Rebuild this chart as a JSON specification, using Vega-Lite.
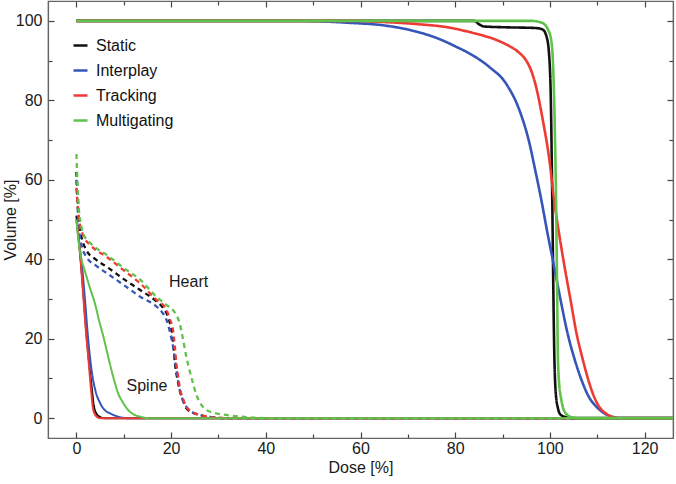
{
  "$schema": "https://vega.github.io/schema/vega-lite/v6.json",
  "width": 625,
  "height": 437,
  "autosize": {"type": "none"},
  "padding": {"left": 48, "top": 1, "right": 3, "bottom": 46},
  "background": "white",
  "config": {
    "font": "Liberation Sans",
    "view": {"stroke": "#666", "strokeWidth": 1.2},
    "axis": {"grid": false, "domainColor": "#666", "domainWidth": 1.2, "tickColor": "#444", "tickWidth": 1.2, "labelFontSize": 16, "titleFontSize": 16, "titleFontWeight": "normal", "labelColor": "#1a1a1a", "titleColor": "#1a1a1a", "labelFont": "Liberation Sans", "titleFont": "Liberation Sans"}
  },
  "datasets": {
    "curves": [
      {"plan":"Static","organ":"PTV","dose":0,"volume":100},{"plan":"Static","organ":"PTV","dose":60,"volume":100},{"plan":"Static","organ":"PTV","dose":84,"volume":100},{"plan":"Static","organ":"PTV","dose":85,"volume":99.2},{"plan":"Static","organ":"PTV","dose":86,"volume":98.6},{"plan":"Static","organ":"PTV","dose":90,"volume":98.4},{"plan":"Static","organ":"PTV","dose":97,"volume":98.2},{"plan":"Static","organ":"PTV","dose":98.5,"volume":97.8},{"plan":"Static","organ":"PTV","dose":99.3,"volume":96},{"plan":"Static","organ":"PTV","dose":99.8,"volume":92},{"plan":"Static","organ":"PTV","dose":100.2,"volume":80},{"plan":"Static","organ":"PTV","dose":100.5,"volume":55},{"plan":"Static","organ":"PTV","dose":100.7,"volume":35},{"plan":"Static","organ":"PTV","dose":100.9,"volume":18},{"plan":"Static","organ":"PTV","dose":101.2,"volume":7},{"plan":"Static","organ":"PTV","dose":101.7,"volume":2.5},{"plan":"Static","organ":"PTV","dose":102.3,"volume":0.8},{"plan":"Static","organ":"PTV","dose":103.5,"volume":0.2},{"plan":"Static","organ":"PTV","dose":105,"volume":0},{"plan":"Static","organ":"PTV","dose":126,"volume":0},
      {"plan":"Static","organ":"Heart","dose":0,"volume":62},{"plan":"Static","organ":"Heart","dose":0.3,"volume":55},{"plan":"Static","organ":"Heart","dose":0.7,"volume":48},{"plan":"Static","organ":"Heart","dose":1.2,"volume":45},{"plan":"Static","organ":"Heart","dose":2.1,"volume":42.3},{"plan":"Static","organ":"Heart","dose":4,"volume":40},{"plan":"Static","organ":"Heart","dose":6.4,"volume":38.1},{"plan":"Static","organ":"Heart","dose":10,"volume":35},{"plan":"Static","organ":"Heart","dose":13.4,"volume":32.3},{"plan":"Static","organ":"Heart","dose":16.9,"volume":29.4},{"plan":"Static","organ":"Heart","dose":18.3,"volume":27.8},{"plan":"Static","organ":"Heart","dose":19,"volume":26.5},{"plan":"Static","organ":"Heart","dose":19.6,"volume":24.5},{"plan":"Static","organ":"Heart","dose":20.1,"volume":22.2},{"plan":"Static","organ":"Heart","dose":20.5,"volume":18},{"plan":"Static","organ":"Heart","dose":20.8,"volume":13.9},{"plan":"Static","organ":"Heart","dose":21.3,"volume":10},{"plan":"Static","organ":"Heart","dose":21.8,"volume":7.1},{"plan":"Static","organ":"Heart","dose":22.5,"volume":4.5},{"plan":"Static","organ":"Heart","dose":23.2,"volume":2.5},{"plan":"Static","organ":"Heart","dose":24.5,"volume":1.4},{"plan":"Static","organ":"Heart","dose":26.1,"volume":0.8},{"plan":"Static","organ":"Heart","dose":28,"volume":0.3},{"plan":"Static","organ":"Heart","dose":32,"volume":0},{"plan":"Static","organ":"Heart","dose":126,"volume":0},
      {"plan":"Static","organ":"Spine","dose":0,"volume":51},{"plan":"Static","organ":"Spine","dose":0.5,"volume":45},{"plan":"Static","organ":"Spine","dose":1,"volume":38.5},{"plan":"Static","organ":"Spine","dose":1.5,"volume":31},{"plan":"Static","organ":"Spine","dose":2,"volume":23},{"plan":"Static","organ":"Spine","dose":2.6,"volume":15},{"plan":"Static","organ":"Spine","dose":3.2,"volume":8},{"plan":"Static","organ":"Spine","dose":3.7,"volume":3},{"plan":"Static","organ":"Spine","dose":4.3,"volume":1},{"plan":"Static","organ":"Spine","dose":5,"volume":0.3},{"plan":"Static","organ":"Spine","dose":5.8,"volume":0},{"plan":"Static","organ":"Spine","dose":126,"volume":0},
      {"plan":"Interplay","organ":"PTV","dose":0,"volume":100},{"plan":"Interplay","organ":"PTV","dose":45,"volume":100},{"plan":"Interplay","organ":"PTV","dose":50.7,"volume":99.9},{"plan":"Interplay","organ":"PTV","dose":57.7,"volume":99.5},{"plan":"Interplay","organ":"PTV","dose":64.7,"volume":98.9},{"plan":"Interplay","organ":"PTV","dose":71.8,"volume":97.3},{"plan":"Interplay","organ":"PTV","dose":76.7,"volume":95.4},{"plan":"Interplay","organ":"PTV","dose":80,"volume":93.6},{"plan":"Interplay","organ":"PTV","dose":83.6,"volume":91.4},{"plan":"Interplay","organ":"PTV","dose":87.2,"volume":88.4},{"plan":"Interplay","organ":"PTV","dose":90.8,"volume":84.1},{"plan":"Interplay","organ":"PTV","dose":93.6,"volume":77.4},{"plan":"Interplay","organ":"PTV","dose":95.7,"volume":69.1},{"plan":"Interplay","organ":"PTV","dose":96.8,"volume":63},{"plan":"Interplay","organ":"PTV","dose":98.1,"volume":55.5},{"plan":"Interplay","organ":"PTV","dose":99.5,"volume":46.5},{"plan":"Interplay","organ":"PTV","dose":100.9,"volume":38.1},{"plan":"Interplay","organ":"PTV","dose":102.3,"volume":29.5},{"plan":"Interplay","organ":"PTV","dose":103.7,"volume":21.5},{"plan":"Interplay","organ":"PTV","dose":105.3,"volume":14.5},{"plan":"Interplay","organ":"PTV","dose":106.9,"volume":8.9},{"plan":"Interplay","organ":"PTV","dose":108.3,"volume":5.2},{"plan":"Interplay","organ":"PTV","dose":109.8,"volume":2.9},{"plan":"Interplay","organ":"PTV","dose":111.5,"volume":1.2},{"plan":"Interplay","organ":"PTV","dose":113,"volume":0.4},{"plan":"Interplay","organ":"PTV","dose":115,"volume":0},{"plan":"Interplay","organ":"PTV","dose":126,"volume":0},
      {"plan":"Interplay","organ":"Heart","dose":0,"volume":60},{"plan":"Interplay","organ":"Heart","dose":0.3,"volume":52},{"plan":"Interplay","organ":"Heart","dose":0.7,"volume":46},{"plan":"Interplay","organ":"Heart","dose":1.2,"volume":43},{"plan":"Interplay","organ":"Heart","dose":2.1,"volume":40.6},{"plan":"Interplay","organ":"Heart","dose":4,"volume":38.5},{"plan":"Interplay","organ":"Heart","dose":6.4,"volume":36.5},{"plan":"Interplay","organ":"Heart","dose":10,"volume":33.5},{"plan":"Interplay","organ":"Heart","dose":13.4,"volume":30.6},{"plan":"Interplay","organ":"Heart","dose":16.9,"volume":28.1},{"plan":"Interplay","organ":"Heart","dose":18,"volume":26.8},{"plan":"Interplay","organ":"Heart","dose":19,"volume":24.8},{"plan":"Interplay","organ":"Heart","dose":19.8,"volume":21.5},{"plan":"Interplay","organ":"Heart","dose":20.4,"volume":18.1},{"plan":"Interplay","organ":"Heart","dose":21.1,"volume":12.3},{"plan":"Interplay","organ":"Heart","dose":21.8,"volume":7.2},{"plan":"Interplay","organ":"Heart","dose":22.5,"volume":4.5},{"plan":"Interplay","organ":"Heart","dose":23.2,"volume":2.9},{"plan":"Interplay","organ":"Heart","dose":24.5,"volume":1.5},{"plan":"Interplay","organ":"Heart","dose":26.1,"volume":0.8},{"plan":"Interplay","organ":"Heart","dose":28,"volume":0.3},{"plan":"Interplay","organ":"Heart","dose":32,"volume":0},{"plan":"Interplay","organ":"Heart","dose":126,"volume":0},
      {"plan":"Interplay","organ":"Spine","dose":0,"volume":50},{"plan":"Interplay","organ":"Spine","dose":0.5,"volume":45},{"plan":"Interplay","organ":"Spine","dose":1.2,"volume":38},{"plan":"Interplay","organ":"Spine","dose":1.8,"volume":30},{"plan":"Interplay","organ":"Spine","dose":2.4,"volume":21},{"plan":"Interplay","organ":"Spine","dose":3.2,"volume":12.1},{"plan":"Interplay","organ":"Spine","dose":4,"volume":7},{"plan":"Interplay","organ":"Spine","dose":5,"volume":3.8},{"plan":"Interplay","organ":"Spine","dose":6,"volume":2},{"plan":"Interplay","organ":"Spine","dose":7.1,"volume":1.2},{"plan":"Interplay","organ":"Spine","dose":8.5,"volume":0.5},{"plan":"Interplay","organ":"Spine","dose":10.6,"volume":0},{"plan":"Interplay","organ":"Spine","dose":126,"volume":0},
      {"plan":"Tracking","organ":"PTV","dose":0,"volume":100},{"plan":"Tracking","organ":"PTV","dose":58,"volume":100},{"plan":"Tracking","organ":"PTV","dose":65,"volume":99.7},{"plan":"Tracking","organ":"PTV","dose":71.8,"volume":99.2},{"plan":"Tracking","organ":"PTV","dose":78.8,"volume":98.3},{"plan":"Tracking","organ":"PTV","dose":83.6,"volume":97},{"plan":"Tracking","organ":"PTV","dose":88.9,"volume":95.1},{"plan":"Tracking","organ":"PTV","dose":91.5,"volume":93.6},{"plan":"Tracking","organ":"PTV","dose":93.5,"volume":92},{"plan":"Tracking","organ":"PTV","dose":95,"volume":90},{"plan":"Tracking","organ":"PTV","dose":96.2,"volume":87},{"plan":"Tracking","organ":"PTV","dose":97.1,"volume":83.3},{"plan":"Tracking","organ":"PTV","dose":98.4,"volume":75.7},{"plan":"Tracking","organ":"PTV","dose":99.9,"volume":64.9},{"plan":"Tracking","organ":"PTV","dose":100.9,"volume":54.8},{"plan":"Tracking","organ":"PTV","dose":102,"volume":46},{"plan":"Tracking","organ":"PTV","dose":103.1,"volume":38.1},{"plan":"Tracking","organ":"PTV","dose":104.4,"volume":29.5},{"plan":"Tracking","organ":"PTV","dose":105.6,"volume":21.5},{"plan":"Tracking","organ":"PTV","dose":107,"volume":14.5},{"plan":"Tracking","organ":"PTV","dose":108.3,"volume":8.9},{"plan":"Tracking","organ":"PTV","dose":109.4,"volume":5.2},{"plan":"Tracking","organ":"PTV","dose":110.4,"volume":2.9},{"plan":"Tracking","organ":"PTV","dose":111.8,"volume":1.2},{"plan":"Tracking","organ":"PTV","dose":113.2,"volume":0.3},{"plan":"Tracking","organ":"PTV","dose":115,"volume":0},{"plan":"Tracking","organ":"PTV","dose":126,"volume":0},
      {"plan":"Tracking","organ":"Heart","dose":0,"volume":58},{"plan":"Tracking","organ":"Heart","dose":0.3,"volume":53},{"plan":"Tracking","organ":"Heart","dose":0.7,"volume":49},{"plan":"Tracking","organ":"Heart","dose":1.4,"volume":46.1},{"plan":"Tracking","organ":"Heart","dose":3,"volume":43.5},{"plan":"Tracking","organ":"Heart","dose":6.4,"volume":40.6},{"plan":"Tracking","organ":"Heart","dose":10,"volume":37.2},{"plan":"Tracking","organ":"Heart","dose":13.4,"volume":34},{"plan":"Tracking","organ":"Heart","dose":16.9,"volume":29.8},{"plan":"Tracking","organ":"Heart","dose":18.3,"volume":28.5},{"plan":"Tracking","organ":"Heart","dose":19,"volume":27.3},{"plan":"Tracking","organ":"Heart","dose":19.7,"volume":25},{"plan":"Tracking","organ":"Heart","dose":20.4,"volume":22.2},{"plan":"Tracking","organ":"Heart","dose":20.8,"volume":18},{"plan":"Tracking","organ":"Heart","dose":21.1,"volume":13.9},{"plan":"Tracking","organ":"Heart","dose":21.5,"volume":10.5},{"plan":"Tracking","organ":"Heart","dose":21.8,"volume":7.9},{"plan":"Tracking","organ":"Heart","dose":22.5,"volume":5},{"plan":"Tracking","organ":"Heart","dose":23.2,"volume":2.9},{"plan":"Tracking","organ":"Heart","dose":24.5,"volume":1.5},{"plan":"Tracking","organ":"Heart","dose":26.1,"volume":0.8},{"plan":"Tracking","organ":"Heart","dose":28,"volume":0.3},{"plan":"Tracking","organ":"Heart","dose":32,"volume":0},{"plan":"Tracking","organ":"Heart","dose":126,"volume":0},
      {"plan":"Tracking","organ":"Spine","dose":0,"volume":50},{"plan":"Tracking","organ":"Spine","dose":0.5,"volume":45},{"plan":"Tracking","organ":"Spine","dose":1,"volume":38},{"plan":"Tracking","organ":"Spine","dose":1.5,"volume":30},{"plan":"Tracking","organ":"Spine","dose":2,"volume":22},{"plan":"Tracking","organ":"Spine","dose":2.6,"volume":14},{"plan":"Tracking","organ":"Spine","dose":3.1,"volume":7},{"plan":"Tracking","organ":"Spine","dose":3.5,"volume":2.5},{"plan":"Tracking","organ":"Spine","dose":4,"volume":0.8},{"plan":"Tracking","organ":"Spine","dose":4.5,"volume":0.2},{"plan":"Tracking","organ":"Spine","dose":5,"volume":0},{"plan":"Tracking","organ":"Spine","dose":126,"volume":0},
      {"plan":"Multigating","organ":"PTV","dose":0,"volume":100},{"plan":"Multigating","organ":"PTV","dose":96,"volume":100},{"plan":"Multigating","organ":"PTV","dose":97.5,"volume":99.8},{"plan":"Multigating","organ":"PTV","dose":98.8,"volume":99.2},{"plan":"Multigating","organ":"PTV","dose":99.6,"volume":97.8},{"plan":"Multigating","organ":"PTV","dose":100.3,"volume":95},{"plan":"Multigating","organ":"PTV","dose":100.7,"volume":88},{"plan":"Multigating","organ":"PTV","dose":101,"volume":75},{"plan":"Multigating","organ":"PTV","dose":101.3,"volume":55},{"plan":"Multigating","organ":"PTV","dose":101.5,"volume":35},{"plan":"Multigating","organ":"PTV","dose":101.7,"volume":15},{"plan":"Multigating","organ":"PTV","dose":102,"volume":8},{"plan":"Multigating","organ":"PTV","dose":102.3,"volume":5.4},{"plan":"Multigating","organ":"PTV","dose":102.8,"volume":2.5},{"plan":"Multigating","organ":"PTV","dose":103.5,"volume":1},{"plan":"Multigating","organ":"PTV","dose":104.7,"volume":0.2},{"plan":"Multigating","organ":"PTV","dose":106,"volume":0},{"plan":"Multigating","organ":"PTV","dose":126,"volume":0},
      {"plan":"Multigating","organ":"Heart","dose":0,"volume":66.5},{"plan":"Multigating","organ":"Heart","dose":0.2,"volume":60},{"plan":"Multigating","organ":"Heart","dose":0.5,"volume":53},{"plan":"Multigating","organ":"Heart","dose":1,"volume":48.5},{"plan":"Multigating","organ":"Heart","dose":1.4,"volume":46.5},{"plan":"Multigating","organ":"Heart","dose":3,"volume":44},{"plan":"Multigating","organ":"Heart","dose":6.4,"volume":41.1},{"plan":"Multigating","organ":"Heart","dose":10,"volume":37.8},{"plan":"Multigating","organ":"Heart","dose":13.4,"volume":34.9},{"plan":"Multigating","organ":"Heart","dose":16.9,"volume":30.6},{"plan":"Multigating","organ":"Heart","dose":19,"volume":28.5},{"plan":"Multigating","organ":"Heart","dose":20.4,"volume":27.2},{"plan":"Multigating","organ":"Heart","dose":21.2,"volume":25.8},{"plan":"Multigating","organ":"Heart","dose":21.8,"volume":23.9},{"plan":"Multigating","organ":"Heart","dose":22.5,"volume":20},{"plan":"Multigating","organ":"Heart","dose":23.2,"volume":15.5},{"plan":"Multigating","organ":"Heart","dose":23.9,"volume":12},{"plan":"Multigating","organ":"Heart","dose":24.6,"volume":8.9},{"plan":"Multigating","organ":"Heart","dose":25.3,"volume":6},{"plan":"Multigating","organ":"Heart","dose":26.1,"volume":3.9},{"plan":"Multigating","organ":"Heart","dose":27.3,"volume":2.2},{"plan":"Multigating","organ":"Heart","dose":28.8,"volume":1.4},{"plan":"Multigating","organ":"Heart","dose":31,"volume":0.9},{"plan":"Multigating","organ":"Heart","dose":34.5,"volume":0.4},{"plan":"Multigating","organ":"Heart","dose":40,"volume":0},{"plan":"Multigating","organ":"Heart","dose":126,"volume":0},
      {"plan":"Multigating","organ":"Spine","dose":0,"volume":50},{"plan":"Multigating","organ":"Spine","dose":0.4,"volume":45},{"plan":"Multigating","organ":"Spine","dose":0.9,"volume":41},{"plan":"Multigating","organ":"Spine","dose":1.8,"volume":37},{"plan":"Multigating","organ":"Spine","dose":2.8,"volume":33},{"plan":"Multigating","organ":"Spine","dose":3.9,"volume":28.9},{"plan":"Multigating","organ":"Spine","dose":4.8,"volume":24.5},{"plan":"Multigating","organ":"Spine","dose":5.7,"volume":20.5},{"plan":"Multigating","organ":"Spine","dose":6.6,"volume":16},{"plan":"Multigating","organ":"Spine","dose":7.4,"volume":12.1},{"plan":"Multigating","organ":"Spine","dose":8.1,"volume":9},{"plan":"Multigating","organ":"Spine","dose":8.8,"volume":6.3},{"plan":"Multigating","organ":"Spine","dose":9.8,"volume":4},{"plan":"Multigating","organ":"Spine","dose":10.9,"volume":2.1},{"plan":"Multigating","organ":"Spine","dose":12,"volume":1},{"plan":"Multigating","organ":"Spine","dose":13.4,"volume":0.4},{"plan":"Multigating","organ":"Spine","dose":15,"volume":0},{"plan":"Multigating","organ":"Spine","dose":126,"volume":0}
    ],
    "notes": [
      {"label": "Heart", "dose": 23.7, "volume": 34.2},
      {"label": "Spine", "dose": 14.9, "volume": 8}
    ]
  },
  "layer": [
    {
      "data": {"name": "curves"},
      "mark": {"type": "line", "interpolate": "monotone", "strokeJoin": "round"},
      "encoding": {
        "x": {"field": "dose", "type": "quantitative", "scale": {"domain": [-6, 126], "nice": false, "zero": false},
          "axis": {"orient": "bottom", "title": "Dose [%]", "values": [0,10,20,30,40,50,60,70,80,90,100,110,120],
            "labelExpr": "datum.value % 20 === 0 ? datum.label : ''",
            "tickSize": {"condition": {"test": "datum.value % 20 !== 0", "value": -4}, "value": -6},
            "labelPadding": 8, "titlePadding": 3, "labelFlush": false}},
        "y": {"field": "volume", "type": "quantitative", "scale": {"domain": [-5, 105], "nice": false, "zero": false},
          "axis": {"orient": "left", "title": "Volume [%]", "values": [0,10,20,30,40,50,60,70,80,90,100],
            "labelExpr": "datum.value % 20 === 0 ? datum.label : ''",
            "tickSize": {"condition": {"test": "datum.value % 20 !== 0", "value": -4}, "value": -6},
            "labelPadding": 12, "titlePadding": -3, "labelFlush": false}},
        "color": {"field": "plan", "type": "nominal",
          "scale": {"domain": ["Static", "Interplay", "Tracking", "Multigating"], "range": ["#111111", "#3556b8", "#ee3a33", "#5fc24a"]},
          "legend": {"orient": "none", "legendX": 24, "legendY": 36, "title": null, "symbolType": "stroke", "symbolStrokeWidth": 2.5, "symbolSize": 196, "labelFontSize": 16, "labelOffset": 7, "rowPadding": 8, "labelColor": "#111", "labelFont": "Liberation Sans"}},
        "strokeDash": {"field": "organ", "type": "nominal", "scale": {"domain": ["PTV", "Heart", "Spine"], "range": [[1, 0], [5, 4], [1, 0]]}, "legend": null},
        "strokeWidth": {"field": "organ", "type": "nominal", "scale": {"domain": ["PTV", "Heart", "Spine"], "range": [2.6, 2, 2]}, "legend": null}
      }
    },
    {
      "data": {"name": "notes"},
      "mark": {"type": "text", "fontSize": 16, "color": "#1a1a1a", "font": "Liberation Sans"},
      "encoding": {
        "text": {"field": "label"},
        "x": {"field": "dose", "type": "quantitative", "scale": {"domain": [-6, 126], "nice": false, "zero": false},
          "axis": {"orient": "top", "title": null, "labels": false, "values": [0,10,20,30,40,50,60,70,80,90,100,110,120],
            "tickSize": {"condition": {"test": "datum.value % 20 !== 0", "value": -4}, "value": -6}}},
        "y": {"field": "volume", "type": "quantitative", "scale": {"domain": [-5, 105], "nice": false, "zero": false},
          "axis": {"orient": "right", "title": null, "labels": false, "values": [0,10,20,30,40,50,60,70,80,90,100],
            "tickSize": {"condition": {"test": "datum.value % 20 !== 0", "value": -4}, "value": -6}}}
      }
    }
  ],
  "resolve": {"axis": {"x": "independent", "y": "independent"}}
}
